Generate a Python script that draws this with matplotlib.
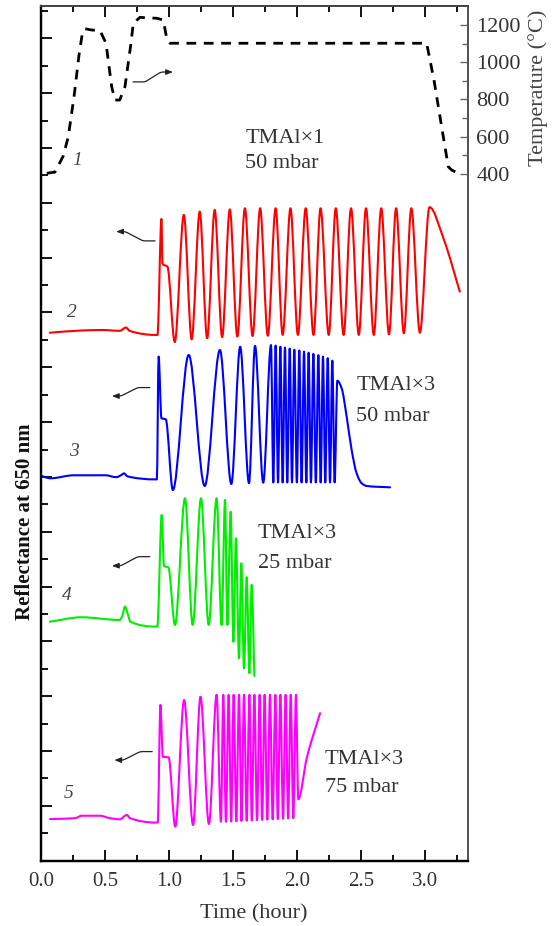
import numpy as np
import matplotlib
matplotlib.use("Agg")
import matplotlib.pyplot as plt
from matplotlib.path import Path
from matplotlib.patches import PathPatch
from matplotlib.ticker import MultipleLocator, FormatStrFormatter

plt.rcParams['font.family'] = ['Liberation Serif', 'DejaVu Serif']
plt.rcParams['lines.scale_dashes'] = False

# ---------------- data (time in hours, reflectance in arbitrary offset units) -------------
red_t = [0.069, 0.310, 0.476, 0.615, 0.664, 0.692, 0.891, 0.910, 0.941, 0.949, 0.988, 1.045,
         1.116, 1.177, 1.240, 1.298, 1.357, 1.415, 1.475, 1.534, 1.593, 1.653, 1.712, 1.772,
         1.833, 1.888, 1.949, 2.007, 2.068, 2.129, 2.184, 2.248, 2.303, 2.364, 2.422, 2.483,
         2.539, 2.600, 2.658, 2.719, 2.774, 2.835, 2.893, 2.960, 3.035, 3.148, 3.272]
red_r = [19.26, 19.34, 19.36, 19.33, 19.45, 19.33, 19.18, 19.18, 23.41, 21.78, 21.67, 18.92,
         23.56, 19.02, 23.68, 19.06, 23.74, 19.10, 23.76, 19.12, 23.80, 19.14, 23.80, 19.15,
         23.80, 19.18, 23.80, 19.18, 23.80, 19.18, 23.80, 19.18, 23.80, 19.18, 23.80, 19.18,
         23.80, 19.18, 23.80, 19.20, 23.80, 19.24, 23.80, 19.26, 23.84, 22.65, 20.76]

blue_t = [0.000, 0.075, 0.255, 0.504, 0.587, 0.628, 0.648, 0.676, 0.891, 0.905, 0.919, 0.941,
          0.975, 1.030, 1.154, 1.279, 1.398, 1.487, 1.556, 1.625, 1.672, 1.736,
          1.797, 1.815, 1.833, 1.852, 1.870, 1.888, 1.906, 1.924, 1.943, 1.961, 1.979, 1.999,
          2.018, 2.036, 2.055, 2.073, 2.091, 2.109, 2.128, 2.147, 2.167, 2.185, 2.203, 2.221,
          2.240, 2.258, 2.276, 2.294, 2.315, 2.349, 2.388, 2.427, 2.466, 2.505, 2.544, 2.727]
blue_r = [14.04, 13.95, 14.06, 14.06, 13.99, 14.07, 14.13, 14.02, 13.91, 13.91, 18.39, 16.14,
          16.10, 13.52, 18.45, 13.67, 18.63, 13.74, 18.75, 13.77, 18.78, 13.79,
          18.81, 13.80, 18.79, 13.80, 18.75, 13.80, 18.72, 13.80, 18.68, 13.80, 18.64, 13.80,
          18.61, 13.80, 18.57, 13.80, 18.53, 13.80, 18.49, 13.80, 18.44, 13.80, 18.39, 13.80,
          18.33, 13.80, 18.24, 13.80, 17.51, 17.23, 16.20, 14.98, 14.13, 13.77, 13.67, 13.62]

green_t = [0.069, 0.318, 0.615, 0.637, 0.656, 0.676, 0.698, 0.895, 0.909, 0.943, 0.961, 0.995,
           1.047, 1.125, 1.185, 1.250, 1.310, 1.372, 1.411, 1.438, 1.456, 1.482, 1.503, 1.523,
           1.547, 1.565, 1.586, 1.607, 1.628, 1.646, 1.667]
green_r = [8.72, 8.88, 8.78, 8.96, 9.27, 9.03, 8.72, 8.54, 8.54, 12.61, 10.75, 10.70,
           8.60, 13.22, 8.60, 13.22, 8.60, 13.22, 8.60, 13.16, 8.60, 12.73, 7.99, 11.76,
           7.38, 10.85, 7.02, 10.34, 6.84, 10.06, 6.74]

magenta_t = [0.070, 0.266, 0.318, 0.461, 0.539, 0.617, 0.670, 0.695, 0.898, 0.912, 0.933, 0.952,
             0.997, 1.049, 1.118, 1.188, 1.246, 1.312, 1.372,
             1.406, 1.424, 1.445, 1.466, 1.486, 1.505, 1.526, 1.547, 1.566, 1.586, 1.607, 1.628,
             1.647, 1.667, 1.688, 1.708, 1.728, 1.747, 1.768, 1.789, 1.810, 1.831, 1.850, 1.870,
             1.891, 1.911, 1.931, 1.951, 1.971, 1.992, 2.010, 2.076, 2.180]
magenta_r = [1.52, 1.55, 1.64, 1.64, 1.55, 1.51, 1.67, 1.55, 1.39, 1.39, 5.68, 3.79,
             3.77, 1.24, 5.86, 1.30, 5.98, 1.34, 6.05,
             1.42, 6.05, 1.42, 6.05, 1.43, 6.05, 1.44, 6.05, 1.45, 6.05, 1.46, 6.05,
             1.47, 6.05, 1.48, 6.05, 1.49, 6.05, 1.50, 6.05, 1.51, 6.05, 1.52, 6.05,
             1.53, 6.05, 1.54, 6.05, 1.55, 6.05, 2.24, 3.74, 5.38]

temp_t = [0.045, 0.109, 0.174, 0.213, 0.258, 0.297, 0.323, 0.344, 0.396, 0.461, 0.508, 0.552,
          0.578, 0.615, 0.656, 0.703, 0.721, 0.773, 0.906, 0.955, 0.982, 1.008, 3.013, 3.070,
          3.130, 3.182, 3.209, 3.260]
temp_c = [404, 410, 497, 600, 815, 1039, 1155, 1180, 1173, 1170, 1102, 869,
          797, 797, 869, 1102, 1209, 1241, 1236, 1227, 1129, 1102, 1102, 905,
          654, 439, 421, 404]

temp_ticks = [400, 600, 800, 1000, 1200]
temp_minor = [500, 700, 900, 1100]
x_ticklabels = ["0.0", "0.5", "1.0", "1.5", "2.0", "2.5", "3.0"]

curve_ids = ["1", "2", "3", "4", "5"]
curve_id_t = [0.281, 0.240, 0.260, 0.200, 0.213]
curve_id_r = [25.53, 19.98, 14.91, 9.69, 2.46]

cond_line1 = ["TMAl\u00d71", "TMAl\u00d73", "TMAl\u00d73", "TMAl\u00d73"]
cond_line2 = ["50 mbar", "50 mbar", "25 mbar", "75 mbar"]
cond_t = [1.597, 2.464, 1.694, 2.215]
cond_r1 = [26.35, 17.32, 11.94, 3.70]
cond_r2 = [25.42, 16.22, 10.85, 2.66]

# small axis-indicator squiggle arrows: (head_t, head_r, tail_t, tail_r)
sq_head_t = [1.031, 0.587, 0.554, 0.554, 0.573]
sq_head_r = [28.77, 22.95, 16.95, 10.76, 3.67]
sq_tail_t = [0.719, 0.891, 0.850, 0.850, 0.869]
sq_tail_r = [28.41, 22.61, 17.26, 11.09, 3.98]

colors = ['#ff0000', '#0000ff', '#00ee00', '#ff00ff']


def smooth_path(x, y):
    x = np.asarray(x, float)
    y = np.asarray(y, float)
    h = np.diff(x)
    d = np.diff(y) / h
    n = len(x)
    m = np.empty(n)
    m[0] = d[0]
    m[-1] = d[-1]
    for i in range(1, n - 1):
        if d[i - 1] * d[i] <= 0:
            m[i] = 0.0
        else:
            w1 = 2 * h[i] + h[i - 1]
            w2 = h[i] + 2 * h[i - 1]
            m[i] = (w1 + w2) / (w1 / d[i - 1] + w2 / d[i])
    verts = [(x[0], y[0])]
    codes = [Path.MOVETO]
    for i in range(n - 1):
        verts += [(x[i] + h[i] / 3, y[i] + m[i] * h[i] / 3),
                  (x[i + 1] - h[i] / 3, y[i + 1] - m[i + 1] * h[i] / 3),
                  (x[i + 1], y[i + 1])]
        codes += [Path.CURVE4] * 3
    return Path(verts, codes)


W, H = 555, 926
fig = plt.figure(figsize=(W / 100, H / 100), dpi=100)
left_px, right_px, top_px, bot_px = 41, 468, 5.7, 860.7
ax = fig.add_axes([left_px / W, 1 - bot_px / H, (right_px - left_px) / W, (bot_px - top_px) / H])
ax.set_xlim(0, 3.336)
ax.set_ylim(0, 31.19)

for (tt, rr), c in zip([(red_t, red_r), (blue_t, blue_r), (green_t, green_r),
                        (magenta_t, magenta_r)], colors):
    ax.add_patch(PathPatch(smooth_path(tt, rr), fill=False, edgecolor=c, lw=1.5,
                           joinstyle='round', capstyle='round', zorder=3))

ax2 = ax.twinx()
ax2.set_ylim(-3287, 1303.6)
ax2.plot(temp_t, temp_c, color='black', lw=2.0, dashes=(7, 5.5))

# ticks
ax.xaxis.set_major_locator(MultipleLocator(0.5))
ax.xaxis.set_minor_locator(MultipleLocator(0.25))
ax.xaxis.set_major_formatter(FormatStrFormatter('%.1f'))
ax.yaxis.set_major_locator(MultipleLocator(2))
ax.yaxis.set_minor_locator(MultipleLocator(1))
ax.tick_params(axis='y', which='both', direction='in', left=True, right=False, labelleft=False, width=1.3)
ax.tick_params(axis='y', which='major', length=8)
ax.tick_params(axis='y', which='minor', length=5)
ax.tick_params(axis='x', which='both', direction='in', top=True, bottom=True, width=1.3)
ax.tick_params(axis='x', which='major', length=8, labelsize=15, pad=8, labelcolor='#333333')
ax.tick_params(axis='x', which='minor', length=4.5)
ax.set_xticks(np.arange(0, 3.01, 0.5))
ax.set_xticklabels(x_ticklabels)

ax2.set_yticks(temp_ticks)
ax2.set_yticks(temp_minor, minor=True)
ax2.tick_params(axis='y', which='both', direction='in', color='#666666', width=1.0, right=True, left=False)
ax2.tick_params(axis='y', which='major', length=6, labelsize=16, labelcolor='#333333', pad=6)
ax2.tick_params(axis='y', which='minor', length=4)

for a in (ax, ax2):
    a.spines['left'].set_linewidth(1.6)
    a.spines['bottom'].set_linewidth(1.6)
    a.spines['left'].set_color('black')
    a.spines['bottom'].set_color('black')
    a.spines['top'].set_color('#444444')
    a.spines['right'].set_color('#555555')
    a.spines['top'].set_linewidth(1.4)
    a.spines['right'].set_linewidth(1.4)

# curve numbers
for s, tx, ry in zip(curve_ids, curve_id_t, curve_id_r):
    ax.text(tx, ry, s, fontsize=14, fontstyle='italic', color='#444444', ha='center', va='center')

# condition labels
for l1, l2, tx, r1, r2 in zip(cond_line1, cond_line2, cond_t, cond_r1, cond_r2):
    ax.text(tx, r1, l1, fontsize=16, color='#333333', ha='left', va='center')
    ax.text(tx, r2, l2, fontsize=16, color='#333333', ha='left', va='center')

# squiggle arrows
for i, (ht, hr, tt, tr) in enumerate(zip(sq_head_t, sq_head_r, sq_tail_t, sq_tail_r)):
    if ht > tt:
        cs = "arc,angleA=0,armA=12,angleB=180,armB=12,rad=2"
    else:
        cs = "arc,angleA=180,armA=12,angleB=0,armB=9,rad=2"
    ax.annotate('', xy=(ht, hr), xytext=(tt, tr), xycoords='data', textcoords='data',
                arrowprops=dict(arrowstyle='-|>,head_length=0.5,head_width=0.2',
                                connectionstyle=cs, lw=0.9, color='#222222',
                                shrinkA=0, shrinkB=0, mutation_scale=8))

fig.text(25.5 / W, 1 - 522 / H, "Reflectance at 650 nm", rotation=90, ha='center', va='center',
         fontsize=15, fontweight='bold', color='#111111')
fig.text(538 / W, 1 - 88 / H, "Temperature (\u00b0C)", rotation=90, ha='center', va='center',
         fontsize=16, color='#444444')
fig.text(254 / W, 1 - 914 / H, "Time (hour)", ha='center', va='center', fontsize=16, color='#333333')

fig.savefig("out.png", dpi=100)
